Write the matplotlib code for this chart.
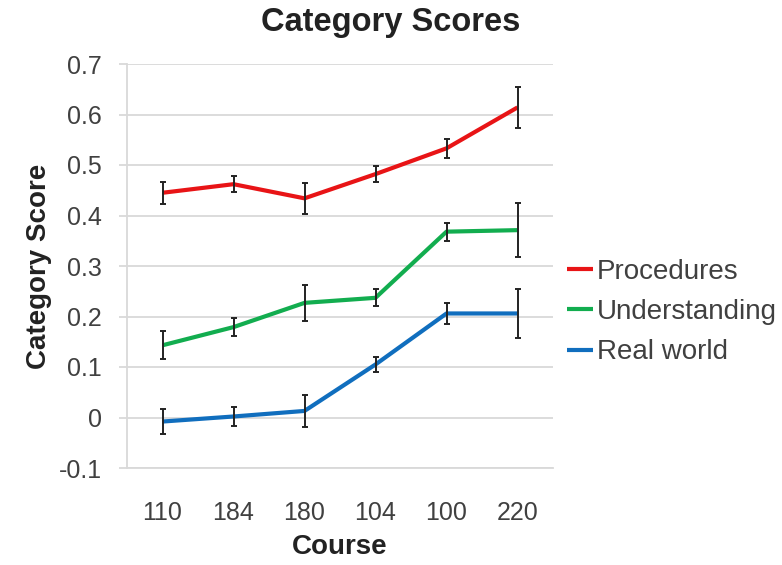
import matplotlib
matplotlib.use("Agg")
import matplotlib.pyplot as plt
import numpy as np

plt.rcParams['font.family'] = ['Liberation Sans', 'DejaVu Sans']

courses = ["110", "184", "180", "104", "100", "220"]
series_names = ["Procedures", "Understanding", "Real world"]
procedures = [0.445, 0.462, 0.434, 0.482, 0.533, 0.614]
procedures_err = [0.022, 0.016, 0.031, 0.016, 0.019, 0.041]
understanding = [0.143, 0.179, 0.227, 0.237, 0.368, 0.371]
understanding_err = [0.028, 0.018, 0.036, 0.017, 0.018, 0.053]
real_world = [-0.008, 0.002, 0.013, 0.105, 0.206, 0.206]
real_world_err = [0.025, 0.018, 0.032, 0.015, 0.020, 0.049]
y_ticks = [-0.1, 0.0, 0.1, 0.2, 0.3, 0.4, 0.5, 0.6, 0.7]
y_tick_labels = ["-0.1", "0", "0.1", "0.2", "0.3", "0.4", "0.5", "0.6", "0.7"]

colors = ["#E81416", "#12AD4F", "#106EBE"]

fig = plt.figure(figsize=(7.82, 5.65), dpi=100)
ax = fig.add_axes([127/782, 1-468/565, (553-127)/782, (468-64)/565])

x = np.arange(len(courses))
for vals, errs, name, c in zip([procedures, understanding, real_world],
                               [procedures_err, understanding_err, real_world_err],
                               series_names, colors):
    ax.plot(x, vals, color=c, lw=3.0, label=name, zorder=3, solid_capstyle='butt')
    ax.errorbar(x, vals, yerr=errs, fmt='none', ecolor='#222222', elinewidth=1.4,
                capsize=2.5, capthick=1.4, zorder=4)

ax.set_xlim(-0.5, len(courses) - 0.5)
ax.set_ylim(-0.1, 0.7)
ax.set_yticks(y_ticks)
ax.set_yticklabels(y_tick_labels)
ax.set_xticks(x)
ax.set_xticklabels(courses)

ax.yaxis.grid(True, color='#D9D9D9', lw=1.3, zorder=0)
ax.set_axisbelow(True)
for s in ['top', 'right']:
    ax.spines[s].set_visible(False)
ax.spines['bottom'].set_color('#D9D9D9')
ax.spines['bottom'].set_linewidth(1.3)
ax.spines['left'].set_color('#D9D9D9')
ax.spines['left'].set_linewidth(1.3)

ax.tick_params(axis='y', direction='out', length=6, width=1.3, color='#D9D9D9',
               labelsize=18, labelcolor='#404040', pad=12)
ax.tick_params(axis='x', length=0, labelsize=18, labelcolor='#404040', pad=24)

ax.set_xlabel("Course", fontsize=20, fontweight='bold', color='#222222', labelpad=6)
ax.set_ylabel("Category Score", fontsize=20, fontweight='bold', color='#222222', labelpad=5)
fig.text(0.5, 1-23/565, "Category Scores", fontsize=23.5, fontweight='bold',
         color='#222222', ha='center', va='center')

leg = fig.legend(loc='center left', bbox_to_anchor=(567/782, 1-312/565), frameon=False,
                 fontsize=20, handlelength=0.95, handletextpad=0.12, labelspacing=0.52,
                 borderpad=0, borderaxespad=0)
for t in leg.get_texts():
    t.set_color('#404040')

fig.savefig("out.png", dpi=100)
